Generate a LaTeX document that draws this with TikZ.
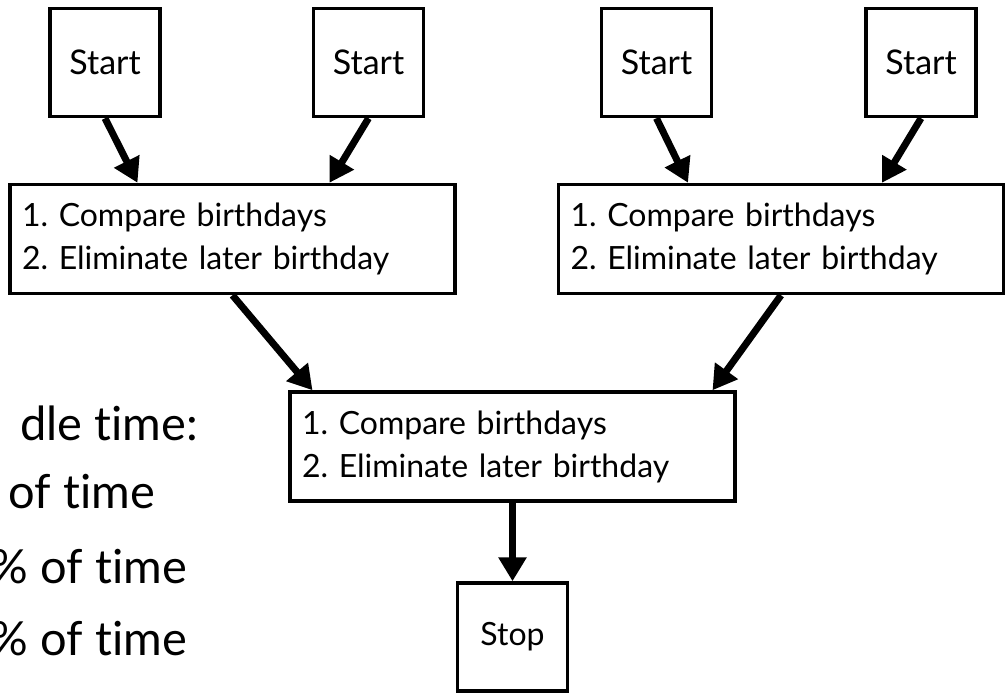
\documentclass[tikz,border=0pt]{standalone}
\usepackage{fontspec}
\setmainfont{Lato}[Ligatures=NoCommon]
\frenchspacing
\usepackage{tikz}
\usetikzlibrary{%
  arrows.meta,
  positioning
}

\tikzset{
  startbox/.style={draw, line width=3.5pt, minimum width=110pt, minimum height=108pt,
                   inner sep=0pt, font=\fontsize{34}{40}\selectfont},
  stepbox/.style={draw, line width=3.5pt, text width=421pt, inner xsep=12pt,
                  minimum height=109pt, align=left, font=\fontsize{32}{43}\selectfont},
  flow/.style={line width=7pt, -{Triangle[length=24pt,width=27pt]}},
  sidetext/.style={anchor=base east, inner sep=0pt, font=\fontsize{47}{56}\selectfont}
}

\begin{document}
\begin{tikzpicture}[x=1pt, y=-1pt]
  \useasboundingbox (0,0) rectangle (1005,693) ;
  \clip (0,0) rectangle (1005,693) ;

  % text cut at the left edge
  \node [sidetext] (idle)  at (198,440) {dle time:} ;
  \node [sidetext] (fracA) at (155,508) {of time} ;
  \node [sidetext] (fracB) at (187,583) {\%\ of time} ;
  \node [sidetext] (fracC) at (187,655) {\%\ of time} ;

  % first round
  \node [startbox] (startA) at (105,62.5) {Start} ;
  \node [startbox] (startB) at (368.5,62.5) {Start} ;
  \node [startbox] (startC) at (656.5,62.5) {Start} ;
  \node [startbox] (startD) at (921,62.5) {Start} ;

  \node [stepbox] (roundA) at (232.5,239) {1. Compare birthdays\\2. Eliminate later birthday} ;
  \node [stepbox] (roundB) at (781,239) {1. Compare birthdays\\2. Eliminate later birthday} ;

  % final round
  \node [stepbox] (final) at (512.5,446.5) {1. Compare birthdays\\2. Eliminate later birthday} ;
  \node [startbox, font=\fontsize{32}{40}\selectfont] (stop) at (512.5,637) {Stop} ;

  \draw [flow] (startA.south) -- ([xshift=-95pt]roundA.north) ;
  \draw [flow] (startB.south) -- ([xshift=97pt]roundA.north) ;
  \draw [flow] (startC.south) -- ([xshift=-93pt]roundB.north) ;
  \draw [flow] (startD.south) -- ([xshift=101pt]roundB.north) ;
  \draw [flow] (roundA.south) -- ([xshift=-200pt]final.north) ;
  \draw [flow] (roundB.south) -- ([xshift=200pt]final.north) ;
  \draw [flow] (final.south) -- (stop.north) ;
\end{tikzpicture}
\end{document}
